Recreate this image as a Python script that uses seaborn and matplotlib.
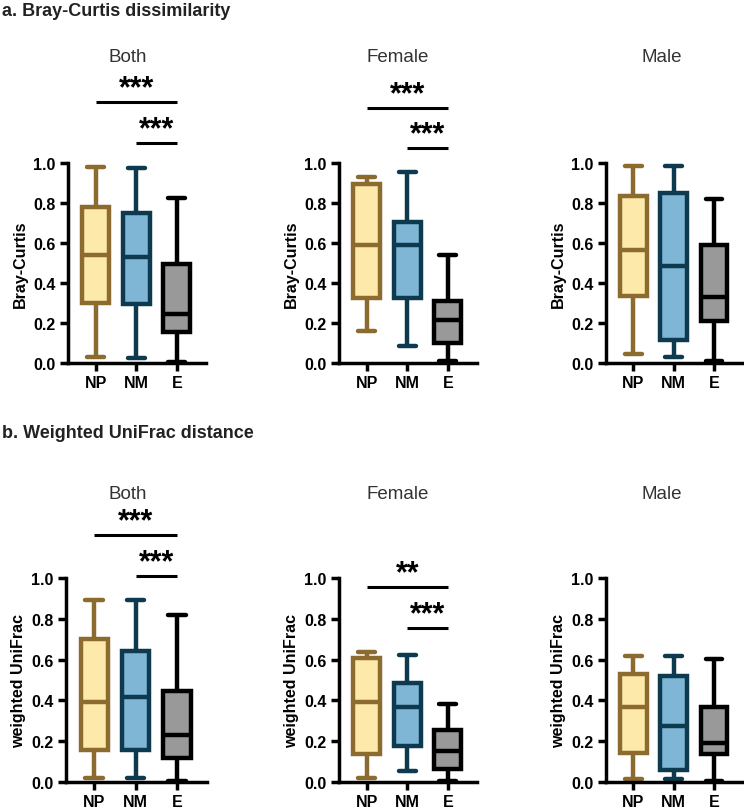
import numpy as np
import pandas as pd
import matplotlib
matplotlib.use("Agg")
import matplotlib.pyplot as plt
import seaborn as sns

# groups on the x axis
groups = ["NP", "NM", "E"]

# five-number summaries per group (min, q1, median, q3, max)
bc_both = [[0.03, 0.30, 0.54, 0.78, 0.98],
           [0.025, 0.295, 0.53, 0.75, 0.977],
           [0.005, 0.155, 0.245, 0.495, 0.825]]
bc_female = [[0.16, 0.325, 0.59, 0.895, 0.93],
             [0.087, 0.325, 0.59, 0.705, 0.955],
             [0.01, 0.10, 0.217, 0.31, 0.54]]
bc_male = [[0.045, 0.335, 0.565, 0.835, 0.983],
           [0.028, 0.115, 0.485, 0.85, 0.983],
           [0.01, 0.21, 0.33, 0.588, 0.82]]
wu_both = [[0.022, 0.155, 0.39, 0.703, 0.89],
           [0.02, 0.155, 0.415, 0.64, 0.894],
           [0.006, 0.118, 0.228, 0.444, 0.82]]
wu_female = [[0.02, 0.139, 0.39, 0.61, 0.636],
             [0.053, 0.177, 0.369, 0.485, 0.623],
             [0.005, 0.066, 0.15, 0.256, 0.38]]
wu_male = [[0.016, 0.144, 0.366, 0.53, 0.62],
           [0.016, 0.057, 0.275, 0.522, 0.62],
           [0.005, 0.139, 0.19, 0.369, 0.603]]

# significance brackets: (from group, to group, label)
bc_both_sig = [("NP", "E", "***"), ("NM", "E", "***")]
bc_female_sig = [("NP", "E", "***"), ("NM", "E", "***")]
wu_both_sig = [("NP", "E", "***"), ("NM", "E", "***")]
wu_female_sig = [("NP", "E", "**"), ("NM", "E", "***")]

fill_colors = ["#FDE9A9", "#7FB6D5", "#999999"]
edge_colors = ["#8C6B2F", "#0E3A50", "#000000"]

panels = [
    # data, brackets, bracket heights, ylabel, title, axes rect (px: left, top, width, height)
    (bc_both, bc_both_sig, [1.305, 1.10], "Bray-Curtis", "Both", (68, 164, 138, 200)),
    (bc_female, bc_female_sig, [1.275, 1.075], "Bray-Curtis", "Female", (339, 164, 138, 200)),
    (bc_male, [], [], "Bray-Curtis", "Male", (606, 164, 137, 200)),
    (wu_both, wu_both_sig, [1.21, 1.01], "weighted UniFrac", "Both", (66, 579, 141, 204)),
    (wu_female, wu_female_sig, [0.955, 0.755], "weighted UniFrac", "Female", (339, 579, 138, 204)),
    (wu_male, [], [], "weighted UniFrac", "Male", (606, 579, 137, 204)),
]
title_x = {"Both": 128, "Female": 398, "Male": 662}

sns.set_theme(style="ticks")
plt.rcParams["font.family"] = ["Liberation Sans", "DejaVu Sans"]

W, H = 744, 812
fig = plt.figure(figsize=(W / 100, H / 100), dpi=100)

for data, sig, sig_y, ylabel, title, (l, t, w, h) in panels:
    ax = fig.add_axes([l / W, 1 - (t + h) / H, w / W, h / H])

    # long table from the five-number summaries
    df = pd.DataFrame({
        "group": np.repeat(groups, 5),
        "value": np.concatenate(data),
    })

    for g, fc, ec in zip(groups, fill_colors, edge_colors):
        sns.boxplot(data=df[df["group"] == g], x="group", y="value", order=groups,
                    color=fc, linecolor=ec, linewidth=3.2, width=0.66,
                    whis=(0, 100), saturation=1, showfliers=False,
                    capwidths=0.42, ax=ax)

    ax.set_ylim(0, 1.0)
    ax.set_xlim(-0.68, 2.72)
    ax.set_yticks([0, 0.2, 0.4, 0.6, 0.8, 1.0])
    ax.set_yticklabels(["0.0", "0.2", "0.4", "0.6", "0.8", "1.0"])
    ax.set_xlabel("")
    ax.set_ylabel(ylabel, fontsize=11.5, fontweight="bold", labelpad=4, color="black")
    ax.tick_params(axis="both", direction="out", length=6, width=2.5, pad=3,
                   labelsize=11.5, color="black", labelcolor="black")
    for lab in ax.get_xticklabels() + ax.get_yticklabels():
        lab.set_fontweight("bold")
    sns.despine(ax=ax)
    for side in ["left", "bottom"]:
        ax.spines[side].set_linewidth(2.5)
        ax.spines[side].set_color("black")

    # significance brackets
    for (g1, g2, lab), yy in zip(sig, sig_y):
        x1, x2 = groups.index(g1), groups.index(g2)
        ax.plot([x1, x2], [yy, yy], color="black", lw=2.2, clip_on=False,
                solid_capstyle="butt")
        ax.annotate(lab, xy=((x1 + x2) / 2, yy), xytext=(0, 10),
                    textcoords="offset points", ha="center", va="center",
                    fontsize=22, fontweight="bold", color="black",
                    annotation_clip=False)

    ty = 58 if t < 400 else 495
    fig.text(title_x[title] / W, 1 - ty / H, title, ha="center", va="center",
             fontsize=13.5, color="#333333")

fig.text(2 / W, 1 - 12 / H, "a. Bray-Curtis dissimilarity", ha="left", va="center",
         fontsize=13, fontweight="bold", color="#222222")
fig.text(2 / W, 1 - 433 / H, "b. Weighted UniFrac distance", ha="left", va="center",
         fontsize=13, fontweight="bold", color="#222222")

fig.savefig("out.png", dpi=100)
